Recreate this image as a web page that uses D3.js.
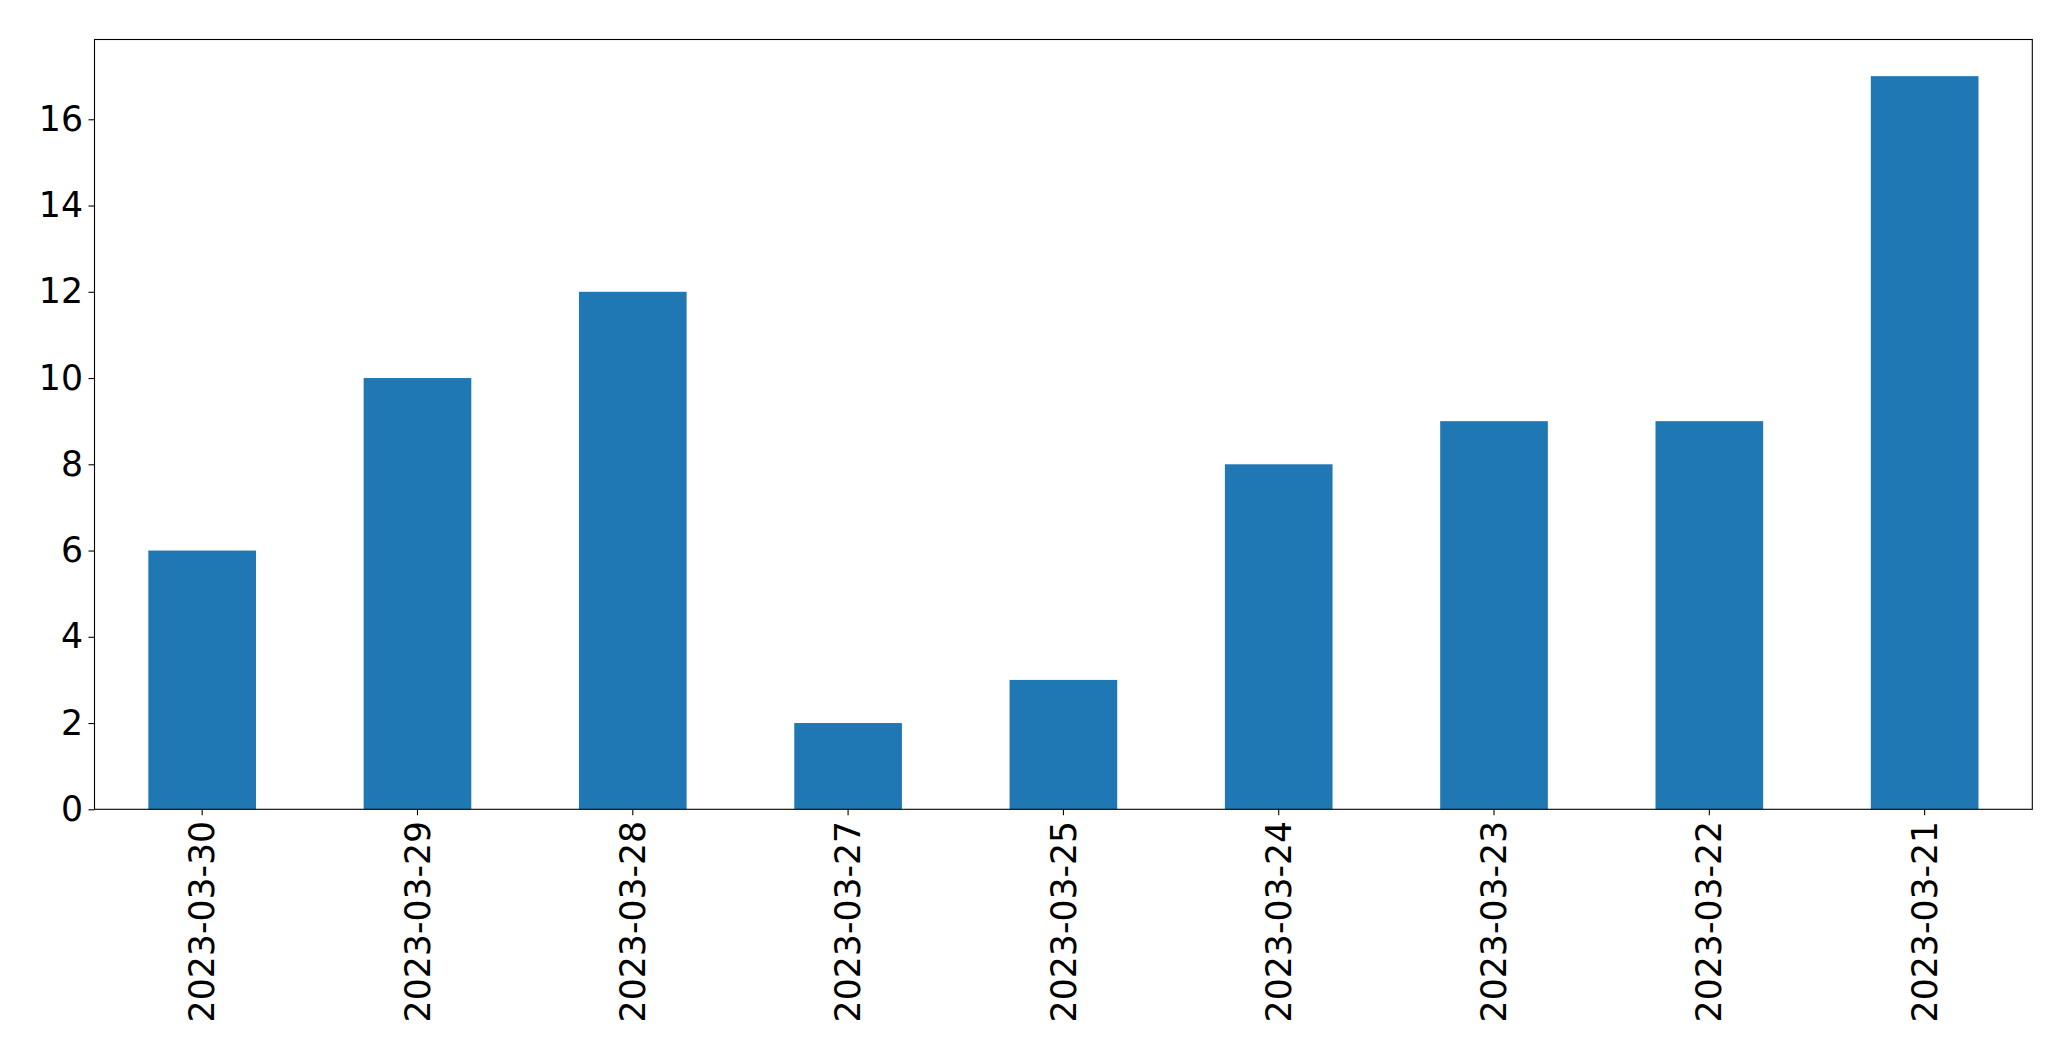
<!DOCTYPE html>
<html>
<head>
<meta charset="utf-8">
<script src="https://cdn.jsdelivr.net/npm/d3@7"></script>
<style>
html,body{margin:0;padding:0;background:#fff;}
text{font-family:"DejaVu Sans",sans-serif;}
</style>
</head>
<body>
<svg id="chart" width="2071" height="1061"></svg>
<script>
const categories = ["2023-03-30","2023-03-29","2023-03-28","2023-03-27","2023-03-25","2023-03-24","2023-03-23","2023-03-22","2023-03-21"];
const values = [6, 10, 12, 2, 3, 8, 9, 9, 17];
const yTicks = [0, 2, 4, 6, 8, 10, 12, 14, 16];

const W = 2071, H = 1061;
const margin = {left: 94.5, right: 2071 - 2032.3, top: 39.5, bottom: 1061 - 809.3};
const svg = d3.select("#chart");
const g = svg.append("g").attr("transform", `translate(${margin.left},${margin.top})`);
const iw = W - margin.left - margin.right;
const ih = H - margin.top - margin.bottom;

const x = d3.scaleBand().domain(categories).range([0, iw]).paddingInner(0.5).paddingOuter(0.25);
const y = d3.scaleLinear().domain([0, d3.max(values) * 1.05]).range([ih, 0]);

g.selectAll("rect.bar").data(values).enter().append("rect")
  .attr("class", "bar")
  .attr("x", (d, i) => x(categories[i]))
  .attr("width", x.bandwidth())
  .attr("y", d => y(d))
  .attr("height", d => ih - y(d))
  .attr("fill", "#1f77b4");

const fs = "34.7px";
const yAxis = g.append("g").call(d3.axisLeft(y).tickValues(yTicks).tickSize(6).tickPadding(5.5));
yAxis.select(".domain").remove();
yAxis.selectAll("text").style("font-size", fs).attr("fill", "#000").style("font-family", "DejaVu Sans");
yAxis.selectAll("line").attr("stroke", "#000").attr("stroke-width", 1.1);

const xAxis = g.append("g").attr("transform", `translate(0,${ih})`).call(d3.axisBottom(x).tickSize(6).tickPadding(5.5));
xAxis.select(".domain").remove();
xAxis.selectAll("line").attr("stroke", "#000").attr("stroke-width", 1.1);
xAxis.selectAll("text")
  .style("font-size", fs).attr("fill", "#000").style("font-family", "DejaVu Sans")
  .attr("transform", "rotate(-90)")
  .attr("text-anchor", "end")
  .attr("x", -11.5)
  .attr("y", 0)
  .attr("dy", "0.35em");

g.append("rect").attr("x", 0).attr("y", 0).attr("width", iw).attr("height", ih)
  .attr("fill", "none").attr("stroke", "#000").attr("stroke-width", 1.1);
</script>
</body>
</html>
